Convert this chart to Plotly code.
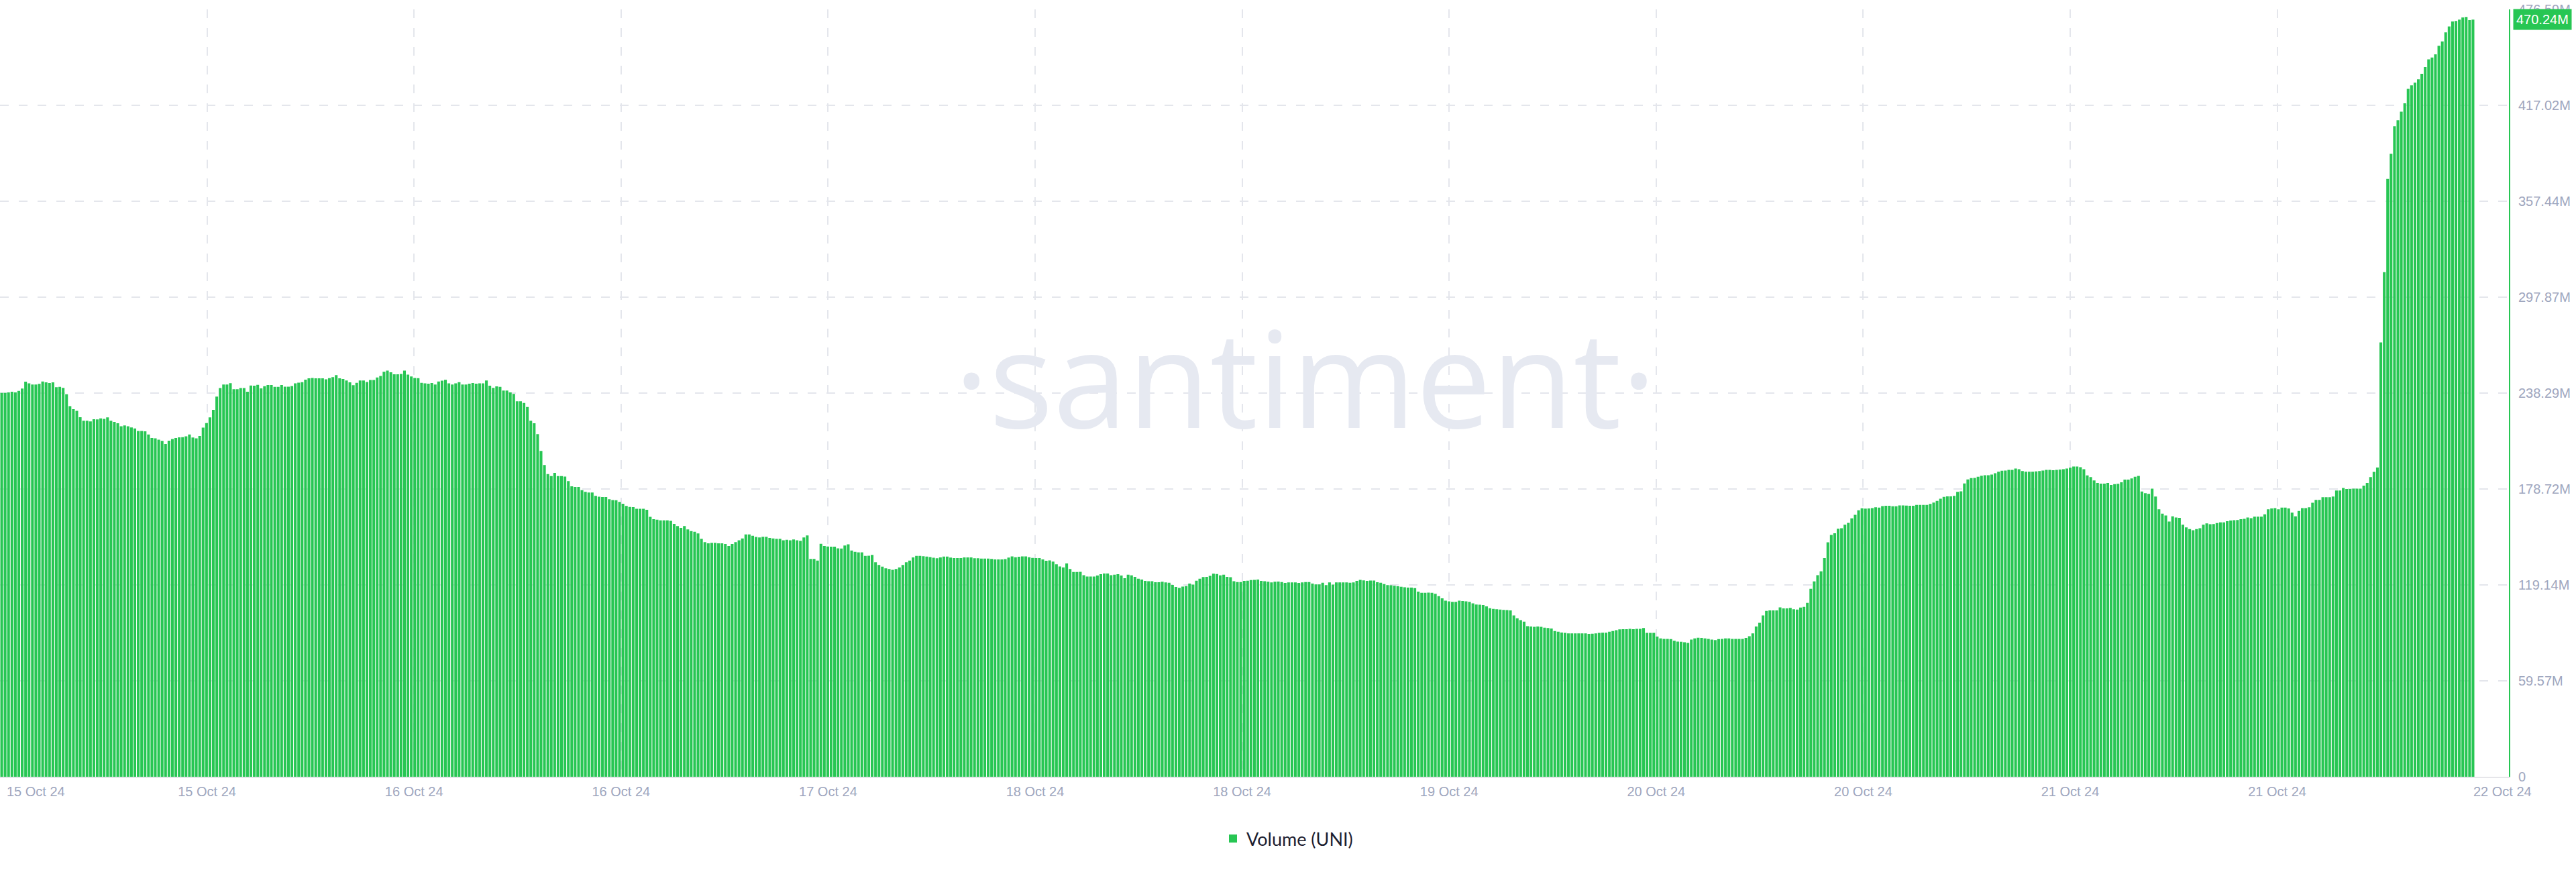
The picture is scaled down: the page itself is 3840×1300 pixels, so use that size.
import plotly.graph_objects as go

# ---- data (values in millions of UNI) ----
vol_part1 = [
    238.4, 238.4, 238.7, 239.1, 238.7, 239.7, 241.1, 245.4, 244.3, 243.6,
    243.6, 244.0, 245.5, 245.0, 244.5, 245.0, 241.9, 242.2, 241.5, 237.6,
    230.2, 228.3, 227.3, 223.3, 221.1, 221.1, 220.7, 222.0, 221.9, 222.6,
    222.3, 223.2, 221.1, 220.4, 219.5, 217.7, 218.2, 217.7, 216.9, 216.3,
    214.8, 214.8, 214.5, 212.6, 210.4, 210.2, 209.3, 208.6, 206.6, 208.7,
    209.8, 210.4, 210.8, 210.9, 211.4, 212.6, 210.7, 210.2, 211.6, 216.8,
    219.7, 223.2, 227.9, 236.1, 241.4, 243.6, 243.6, 244.4, 240.7, 240.7,
    241.4, 241.4, 239.1, 243.0, 242.9, 243.4, 241.2, 242.6, 243.3, 243.3,
    242.2, 242.2, 243.3, 242.3, 242.3, 242.7, 244.3, 244.8, 245.1, 246.6,
    247.5, 247.7, 247.5, 247.5, 247.5, 246.8, 247.6, 248.2, 249.4, 247.5,
    247.0, 246.1, 245.0, 243.2, 244.7, 246.1, 246.1, 245.2, 246.4, 246.4,
    248.0, 248.9, 251.5, 252.2, 251.2, 250.0, 250.0, 250.2, 252.2, 249.7,
    248.6, 247.7, 247.6, 244.7, 244.3, 244.1, 244.5, 243.6, 245.5, 246.0,
    246.5, 244.3, 243.6, 244.3, 245.1, 243.6, 243.6, 244.1, 244.5, 244.1,
    244.3, 244.3, 246.1, 242.9, 241.5, 242.5, 242.2,
]
vol_part2 = [
    239.9, 239.9, 238.7, 237.8, 233.2, 233.2, 232.2, 229.7, 221.1, 219.6,
    212.8, 202.4, 193.6, 188.0, 186.7, 188.7, 186.7, 186.7, 186.4, 183.6,
    180.4, 180.0, 180.0, 178.0, 176.9, 176.5, 176.5, 174.4, 173.9, 173.7,
    173.7, 172.4, 171.8, 171.7, 170.7, 169.6, 168.2, 167.6, 167.5, 166.4,
    166.4, 166.4, 165.8, 161.4, 160.0, 159.7, 159.2, 159.2, 159.2, 158.9,
    157.1, 155.7, 154.6, 155.7, 153.6, 152.6, 152.2, 151.1, 147.8, 145.7,
    145.0, 145.3, 145.3, 145.0, 145.0, 144.6, 143.3, 144.6, 145.7, 146.8,
    148.0, 150.5, 150.5, 149.7, 148.9, 148.6, 149.0, 149.0, 148.3, 148.0,
    147.8, 147.8, 146.9, 147.2, 146.8, 147.4, 146.8, 146.5, 148.6, 149.9,
    135.3, 135.3, 134.2, 144.7, 143.3, 143.0, 142.9, 142.9, 141.9, 141.7,
    143.6, 144.4, 140.5, 139.7, 139.4, 139.4, 137.2, 137.3, 137.8, 133.2,
    131.5, 130.5, 129.5, 129.0, 128.5, 129.0, 130.0, 131.5,
    133.2, 134.2, 136.2, 137.2, 137.2, 137.0, 136.7, 136.4, 136.0, 135.7,
    136.2, 136.7, 136.7, 136.1, 135.8, 135.8, 135.8, 136.2, 136.2, 136.2,
    135.7, 135.7, 135.5, 135.5, 135.5, 135.3, 135.0, 135.0, 135.0,
]
vol_part3 = [
    135.2, 136.1, 136.9, 136.3, 136.6, 136.9, 136.9, 136.3, 135.9, 135.8,
    135.8, 135.0, 134.1, 134.4, 133.6, 132.0, 130.6, 130.0, 132.5, 129.0,
    127.2, 127.2, 127.3, 125.2, 124.4, 124.4, 124.4, 125.0, 125.8, 126.2,
    126.2, 125.2, 125.5, 125.8, 125.0, 123.3, 125.5, 125.1, 124.1, 123.0,
    122.5, 121.6, 121.4, 121.4, 120.8, 120.8, 121.1, 120.7, 120.5, 119.1,
    117.9, 117.3, 118.1, 118.4, 120.0, 119.4, 121.8, 123.0, 124.0, 124.1,
    124.8, 126.1, 125.9, 125.1, 125.5, 124.1, 123.9, 121.4, 120.9, 120.9,
    121.6, 121.8, 122.2, 122.3, 122.5, 121.6, 121.4, 121.1, 120.7, 121.1,
    121.2, 120.9, 120.4, 120.7, 120.7, 120.7, 120.4, 120.7, 120.9, 120.9,
    120.0, 119.5, 119.5, 120.5, 119.0, 120.7, 119.4, 120.7, 120.7, 120.7,
    120.7, 120.5, 120.7, 121.6, 122.3, 122.0, 121.6, 121.9, 121.9, 120.8,
    120.5, 119.7, 119.0, 118.9, 118.6, 118.3, 118.0, 117.7, 117.5, 117.5,
    117.2, 115.0, 114.3, 114.3, 114.4, 114.3, 113.6, 112.2, 110.8, 109.4,
    108.9, 108.6, 108.6, 109.4, 109.1, 108.9, 108.6, 107.7, 107.0, 106.9,
    106.6, 105.8, 104.7, 104.3, 104.0, 103.8, 103.6,
]
vol_part4 = [
    103.5, 103.3, 100.2, 98.4, 97.3, 96.3, 93.5, 93.3, 93.1, 93.3,
    93.1, 92.6, 92.4, 92.1, 90.5, 90.1, 89.6, 89.4, 89.0, 89.0,
    89.0, 89.1, 89.1, 89.0, 88.7, 88.8, 89.0, 89.4,
    89.5, 89.5, 90.1, 90.5, 91.0, 91.5, 91.7, 91.7, 91.9, 91.7,
    91.9, 91.9, 92.4, 89.4, 89.4, 89.4, 87.1, 85.9, 85.6, 85.6,
    85.5, 84.5, 83.9, 83.8, 83.5, 83.1, 85.2, 85.9, 86.3, 86.2,
    85.9, 85.6, 85.2, 84.9, 85.5, 85.6, 85.9, 85.9, 85.6, 85.6,
    85.6, 85.6, 86.2, 87.3, 89.0, 93.3, 95.6, 100.2, 103.0, 103.3,
    103.3, 103.3, 105.2, 104.6, 104.6, 104.9, 104.0, 103.8, 105.1, 105.5,
    108.0, 116.7, 121.3, 125.2, 127.6, 135.8, 145.6, 150.2, 151.2, 154.0,
    154.4, 156.5, 157.7, 160.5, 162.7, 165.5, 166.7, 166.5, 166.6, 166.9,
    167.4, 167.2, 168.1, 168.3, 168.3, 168.0, 168.0, 168.5, 168.5, 168.4,
    168.3, 168.3, 168.8, 168.8, 168.8, 168.8, 169.5, 170.3, 171.3, 172.7,
    173.8, 174.1, 174.1, 174.4, 176.9, 177.3, 182.2, 184.7, 185.5, 185.6,
    186.3, 187.0, 187.3, 187.3, 187.7, 188.5, 189.4, 190.1, 190.2,
]
vol_part5 = [
    190.6, 190.6, 191.4, 191.0, 189.9, 189.5, 189.5, 189.5, 189.7, 189.9,
    190.2, 190.6, 190.6, 190.4, 190.6, 190.8, 191.0, 191.4, 191.9, 192.7,
    192.7, 192.3, 191.0, 187.2, 186.1, 184.0, 182.5, 182.1, 182.1, 182.5,
    181.2, 181.7, 181.9, 182.9, 184.6, 184.6, 185.3, 186.3, 186.8, 177.2,
    176.1, 175.7, 178.9, 174.0, 166.1, 163.4, 162.3, 158.5, 161.7, 161.0,
    160.8, 156.5, 154.9, 153.8, 153.1, 153.8, 154.4, 156.5, 157.4, 156.8,
    157.0, 157.6, 158.0, 158.0, 158.7, 159.1, 159.3, 159.5, 160.0, 160.2,
    161.0, 160.6, 161.5, 161.5, 161.5, 163.0, 166.1, 166.6, 166.8, 166.1,
    167.2, 167.2, 166.6, 164.0, 161.7, 165.1, 166.8, 166.8, 167.4, 170.2,
    171.9, 171.9, 173.6, 173.6, 173.6, 174.0, 177.8, 177.8, 179.3, 178.7,
    178.7, 178.9, 178.9, 178.9, 180.8, 182.5, 186.1, 189.3, 192.1,
]
vol_part6 = [
    269.8, 313.4, 371.3, 386.9, 404.0, 407.7, 413.1, 418.3, 427.2, 429.4,
    431.1, 433.2, 436.6, 440.8, 445.6, 446.7, 448.7, 454.0, 456.7, 462.3,
    466.0, 469.1, 469.4, 470.2, 471.6, 471.9, 469.9, 470.24,
]

y_tick_values = [0, 59.57, 119.14, 178.72, 238.29, 297.87, 357.44, 417.02, 476.59]
y_tick_labels = ["0", "59.57M", "119.14M", "178.72M", "238.29M", "297.87M",
                 "357.44M", "417.02M", "476.59M"]
x_tick_labels = ["15 Oct 24", "15 Oct 24", "16 Oct 24", "16 Oct 24", "17 Oct 24",
                 "18 Oct 24", "18 Oct 24", "19 Oct 24", "20 Oct 24", "20 Oct 24",
                 "21 Oct 24", "21 Oct 24", "22 Oct 24"]
series_name = "Volume (UNI)"

volume = vol_part1 + vol_part2 + vol_part3 + vol_part4 + vol_part5 + vol_part6
N = len(volume)
idx = list(range(N))

# ---- layout geometry ----
W, H = 3840, 1300
PLOT_W = 3740          # plot area width in px
BARS_W = 3689          # width occupied by the bars
pitch = BARS_W / N     # px per bar slot
x_lo = -0.5
x_hi = x_lo + PLOT_W / pitch
STEP_PX = 308.6
grid_vals = [x_lo + k * STEP_PX / pitch for k in range(12)]
grid_text = [""] + x_tick_labels[1:12]

GREEN = "#27c653"
LABEL_COLOR = "#9ea6be"
GRID = "#e4e6ec"
FONT = "Liberation Sans, Arial, sans-serif"

fig = go.Figure()
fig.add_trace(go.Bar(
    x=idx, y=volume, name=series_name,
    marker=dict(color=GREEN, line=dict(width=0)),
    showlegend=True,
))

fig.update_layout(
    width=W, height=H, autosize=False,
    margin=dict(l=0, r=W - PLOT_W, t=14, b=142),
    paper_bgcolor="white", plot_bgcolor="white",
    bargap=0.2,
    font=dict(family=FONT, size=20, color=LABEL_COLOR),
    showlegend=True,
    legend=dict(
        orientation="h", xref="container", yref="container",
        x=0.5, xanchor="center", y=0.038, yanchor="middle",
        font=dict(family="Lato, Open Sans, sans-serif", size=27, color="#1c2030"),
        itemwidth=30,
    ),
    xaxis=dict(
        range=[x_lo, x_hi],
        tickmode="array", tickvals=grid_vals, ticktext=grid_text,
        showgrid=True, gridcolor=GRID, gridwidth=1.5, griddash="13px,15px",
        showline=True, linecolor="#e6e6ea", linewidth=2,
        zeroline=False, ticks="",
        tickfont=dict(size=20, color=LABEL_COLOR, family=FONT),
        ticklabelstandoff=3,
        fixedrange=True,
    ),
    yaxis=dict(
        side="right", range=[0, y_tick_values[-1]],
        tickmode="array", tickvals=y_tick_values, ticktext=y_tick_labels,
        showgrid=True, gridcolor=GRID, gridwidth=1.5, griddash="13px,15px",
        showline=True, linecolor=GREEN, linewidth=2,
        zeroline=False, ticks="",
        tickfont=dict(size=20, color=LABEL_COLOR, family=FONT),
        ticklabelstandoff=8,
        fixedrange=True,
    ),
)

# first and last x labels (kept inside the canvas, as in the reference)
fig.add_annotation(text=x_tick_labels[0], xref="paper", yref="paper",
                   x=53 / PLOT_W, y=0, yshift=-22, xanchor="center", yanchor="middle",
                   showarrow=False, font=dict(size=20, color=LABEL_COLOR, family=FONT))
fig.add_annotation(text=x_tick_labels[-1], xref="paper", yref="paper",
                   x=3730 / PLOT_W, y=0, yshift=-22, xanchor="center", yanchor="middle",
                   showarrow=False, font=dict(size=20, color=LABEL_COLOR, family=FONT))

# last value badge on the right axis
fig.add_annotation(text=f"{volume[-1]:.2f}M", xref="paper", yref="y",
                   x=1, y=volume[-1], xanchor="left", yanchor="middle", xshift=6,
                   showarrow=False, bgcolor=GREEN, borderpad=4,
                   font=dict(size=20, color="white", family=FONT))

# watermark
fig.add_annotation(text="·santiment·", xref="paper", yref="paper",
                   x=1946 / PLOT_W, y=(1158 - 560) / 1144, xanchor="center", yanchor="middle",
                   showarrow=False,
                   font=dict(size=200, color="#e6e9f1", family="Open Sans, sans-serif"))

fig.write_html(
    "out.html",
    config={"displayModeBar": False},
    post_script="document.body.style.margin='0';document.body.style.overflow='hidden';",
)
